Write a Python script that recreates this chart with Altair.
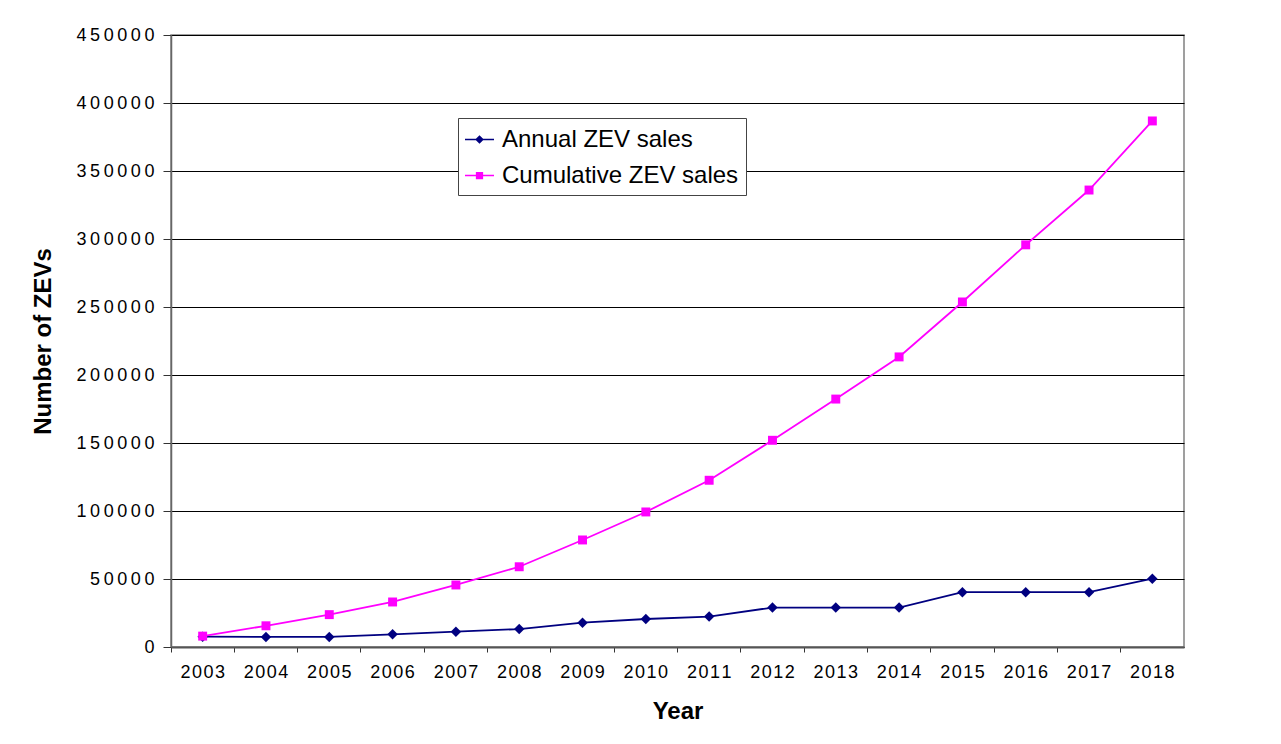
import altair as alt
import pandas as pd

years = ["2003", "2004", "2005", "2006", "2007", "2008", "2009", "2010",
         "2011", "2012", "2013", "2014", "2015", "2016", "2017", "2018"]
annual = [7600, 7400, 7400, 9300, 11300, 13200, 17900, 20600,
          22400, 29000, 29000, 29000, 40300, 40300, 40300, 50200]
cumulative = [8000, 15600, 23800, 33100, 45600, 59000, 78700, 99300,
              122600, 152000, 182300, 213300, 253700, 295700, 336000, 386800]
series_names = ["Annual ZEV sales", "Cumulative ZEV sales"]
series_colors = ["#000080", "#FF00FF"]
y_ticks = [0, 50000, 100000, 150000, 200000, 250000, 300000, 350000, 400000, 450000]

rows = []
for y, a, c in zip(years, annual, cumulative):
    rows.append({"Year": y, "Series": series_names[0], "Value": a})
    rows.append({"Year": y, "Series": series_names[1], "Value": c})
df = pd.DataFrame(rows)

FONT = "Liberation Sans"

# legend symbols: short line with marker in the middle (filled paths)
diamond_sym = "M-1,-0.06H1V0.06H-1Z M0,-0.3L0.3,0L0,0.3L-0.3,0Z"
square_sym = "M-1,-0.06H1V0.06H-1Z M-0.25,-0.25H0.25V0.25H-0.25Z"

x_enc = alt.X(
    "Year:O",
    sort=years,
    scale=alt.Scale(type="band", paddingInner=0, paddingOuter=0),
    axis=alt.Axis(
        title="Year",
        titleFont=FONT, titleFontSize=24, titleFontWeight="bold", titleColor="#000",
        titlePadding=18,
        labelFont=FONT, labelFontSize=18, labelColor="#000", labelAngle=0,
        labelPadding=11,
        labelExpr="replace(datum.label, regexp('(\\\\d)(?=\\\\d)', 'g'), '$1\u200a')",
        bandPosition=0,
        tickSize=5, tickColor="#333", tickWidth=1,
        domainColor="#555", domainWidth=2,
        grid=False,
    ),
)

y_enc = alt.Y(
    "Value:Q",
    scale=alt.Scale(domain=[0, 450000], nice=False, zero=True),
    axis=alt.Axis(
        title="Number of ZEVs",
        titleFont=FONT, titleFontSize=24, titleFontWeight="bold", titleColor="#000",
        titlePadding=20,
        values=y_ticks, format="d",
        labelFont=FONT, labelFontSize=18, labelColor="#000",
        labelPadding=9,
        labelExpr="replace(datum.label, regexp('(\\\\d)(?=\\\\d)', 'g'), '$1\u2009')",
        tickSize=8, tickColor="#333", tickWidth=1,
        domainColor="#666", domainWidth=1.5,
        grid=True, gridColor="#000", gridWidth=1, gridOpacity=1,
    ),
)

color_scale = alt.Scale(domain=series_names, range=series_colors)

base = alt.Chart(df)


def series_layers(name, color, shape, size):
    sub = base.transform_filter(alt.datum.Series == name)
    line = sub.mark_line(strokeWidth=1.8, color=color).encode(x=x_enc, y=y_enc)
    pts = sub.mark_point(shape=shape, filled=True, opacity=1, size=size, color=color).encode(
        x=x_enc, y=y_enc
    )
    return [line, pts]


legend_props = dict(
    title=None,
    orient="none",
    legendX=287,
    legendY=83,
    direction="vertical",
    fillColor="white",
    strokeColor="#444",
    padding=7,
    labelFont=FONT,
    labelFontSize=24,
    labelColor="#000",
    labelLimit=500,
    labelOffset=8,
    symbolSize=841,
    symbolOpacity=1,
    symbolStrokeWidth=0,
    rowPadding=9,
)

legend_layer = base.mark_point(filled=True, opacity=0, size=841).encode(
    x=x_enc,
    y=y_enc,
    color=alt.Color("Series:N", scale=color_scale, legend=alt.Legend(**legend_props)),
    shape=alt.Shape(
        "Series:N",
        scale=alt.Scale(domain=series_names, range=[diamond_sym, square_sym]),
        legend=alt.Legend(**legend_props),
    ),
)

layers = (
    series_layers(series_names[0], series_colors[0], "diamond", 110)
    + series_layers(series_names[1], series_colors[1], "square", 80)
    + [legend_layer]
)

chart = (
    alt.layer(*layers)
    .properties(
        width=1013,
        height=612,
        autosize=alt.AutoSizeParams(type="none"),
        padding={"left": 163, "top": 27, "right": 80, "bottom": 90},
        background="white",
    )
    .configure_view(stroke="#808080", strokeWidth=1.5)
)

chart.save("out.html", embed_options={"renderer": "svg", "actions": False})
